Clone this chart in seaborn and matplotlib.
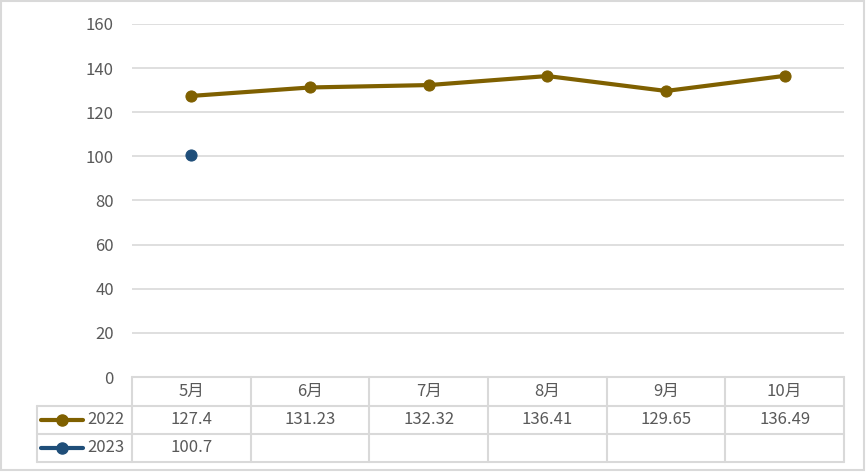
import pandas as pd
import matplotlib
matplotlib.use("Agg")
import matplotlib.pyplot as plt
from matplotlib.lines import Line2D
import seaborn as sns

# datos
months = ["5月", "6月", "7月", "8月", "9月", "10月"]
values_2022 = [127.4, 131.23, 132.32, 136.41, 129.65, 136.49]
values_2023 = [100.7]
labels_2022 = ["127.4", "131.23", "132.32", "136.41", "129.65", "136.49"]
labels_2023 = ["100.7", "", "", "", "", ""]
series_names = ["2022", "2023"]
yticks = [0, 20, 40, 60, 80, 100, 120, 140, 160]

c22 = "#7F6000"
c23 = "#1F4E79"
txt = "#595959"
grid = "#D9D9D9"
fs = 12

sns.set_style("white")
plt.rcParams["font.family"] = ["Noto Sans CJK SC", "DejaVu Sans"]

W, H = 867, 472
fig = plt.figure(figsize=(W / 100, H / 100), dpi=100)

def fx(px):
    return px / W

def fy(py):
    return 1 - py / H

x0, x1, ytop, ybot = 132, 844, 24, 377
ax = fig.add_axes([fx(x0), fy(ybot), fx(x1) - fx(x0), fy(ytop) - fy(ybot)])

df22 = pd.DataFrame({"x": range(len(values_2022)), "y": values_2022})
df23 = pd.DataFrame({"x": range(len(values_2023)), "y": values_2023})
sns.lineplot(data=df22, x="x", y="y", ax=ax, color=c22, lw=3, marker="o",
             markersize=8, markeredgecolor=c22, zorder=3)
sns.lineplot(data=df23, x="x", y="y", ax=ax, color=c23, lw=3, marker="o",
             markersize=8, markeredgecolor=c23, zorder=3)

ax.set_xlim(-0.5, len(months) - 0.5)
ax.set_ylim(0, 160)
ax.set_yticks(yticks)
ax.set_yticklabels([str(t) for t in yticks], color=txt, fontsize=fs)
ax.tick_params(axis="y", length=0, pad=13)
ax.set_xticks([])
ax.set_xlabel("")
ax.set_ylabel("")
for t in yticks[1:]:
    ax.axhline(t, color=grid, lw=1.2, zorder=1)
for s in ax.spines.values():
    s.set_visible(False)

# tabla de datos
col_w = (x1 - x0) / len(months)
rows = [377, 406, 434, 462]
lx = 37

def hline(px0, px1, py):
    fig.add_artist(Line2D([fx(px0), fx(px1)], [fy(py), fy(py)], color=grid, lw=1.5))

def vline(px, py0, py1):
    fig.add_artist(Line2D([fx(px), fx(px)], [fy(py0), fy(py1)], color=grid, lw=1.5))

hline(x0, x1, rows[0])
for r in rows[1:]:
    hline(lx, x1, r)
vline(lx, rows[1], rows[3])
for i in range(len(months) + 1):
    vline(x0 + i * col_w, rows[0], rows[3])

for i, m in enumerate(months):
    cx = fx(x0 + (i + 0.5) * col_w)
    fig.text(cx, fy((rows[0] + rows[1]) / 2), m, ha="center", va="center", color=txt, fontsize=fs)
    fig.text(cx, fy((rows[1] + rows[2]) / 2), labels_2022[i], ha="center", va="center", color=txt, fontsize=fs)
    fig.text(cx, fy((rows[2] + rows[3]) / 2), labels_2023[i], ha="center", va="center", color=txt, fontsize=fs)

for name, col, r in [(series_names[0], c22, 1), (series_names[1], c23, 2)]:
    yy = fy((rows[r] + rows[r + 1]) / 2)
    fig.add_artist(Line2D([fx(41), fx(83)], [yy, yy], color=col, lw=3, solid_capstyle="round"))
    fig.add_artist(Line2D([fx(62)], [yy], color=col, marker="o", markersize=8))
    fig.text(fx(87), yy, name, ha="left", va="center", color=txt, fontsize=fs)

# borde exterior
fig.add_artist(plt.Rectangle((fx(1), fy(470)), fx(864) - fx(1), fy(1) - fy(470),
                             fill=False, edgecolor=grid, lw=1.5, transform=fig.transFigure))

fig.savefig("out.png", dpi=100)
